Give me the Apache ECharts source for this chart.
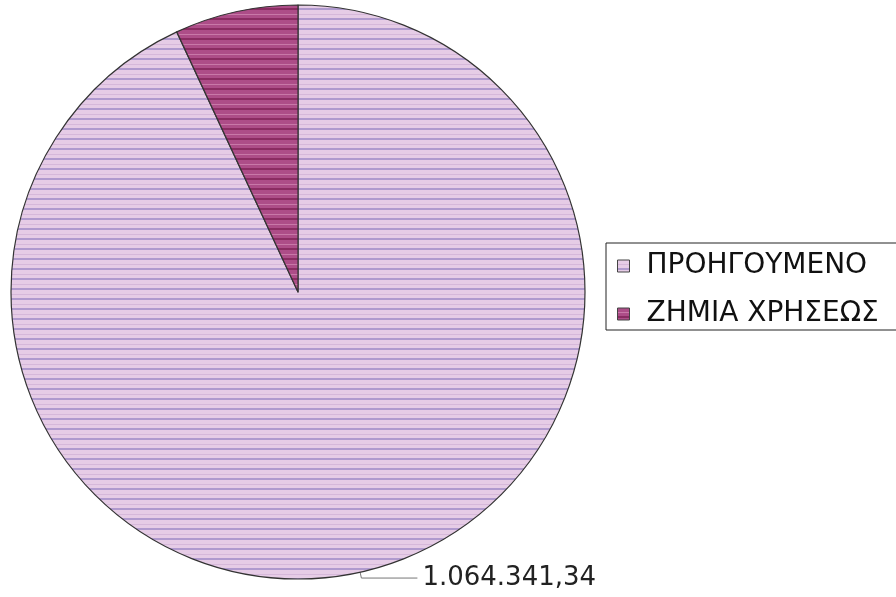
<!DOCTYPE html>
<html>
<head>
<meta charset="utf-8">
<script src="https://cdn.jsdelivr.net/npm/echarts@6/dist/echarts.min.js"></script>
<style>
  html, body { margin: 0; padding: 0; background: #fff; }
  #main { width: 896px; height: 597px; }
</style>
</head>
<body>
<div id="main"></div>
<script>
  var categories = ["ΠΡΟΗΓΟΥΜΕΝΟ", "ΖΗΜΙΑ ΧΡΗΣΕΩΣ"];
  var values = [1064341.34, 79400];
  var shownLabels = [true, false];

  // horizontal stripe pattern like the scanned chart
  function stripes(base, line, soft) {
    var c = document.createElement("canvas");
    c.width = 10;
    c.height = 10;
    var ctx = c.getContext("2d");
    ctx.fillStyle = base;
    ctx.fillRect(0, 0, 10, 10);
    ctx.fillStyle = soft;
    ctx.fillRect(0, 4, 10, 1);
    ctx.fillStyle = line;
    ctx.fillRect(0, 8, 10, 2);
    return c;
  }

  function fmt(v) {
    var parts = v.toFixed(2).split(".");
    var int = parts[0].replace(/\B(?=(\d{3})+(?!\d))/g, ".");
    return int + "," + parts[1];
  }

  var bigPattern = stripes("#e6cce6", "#b09ace", "#d6b8da");
  var smallPattern = stripes("#ad4d88", "#8a2c62", "#c878a8");

  var myChart = echarts.init(document.getElementById("main"));
  myChart.setOption({
    animation: false,
    legend: {
      orient: "vertical",
      left: 606,
      top: 243,
      padding: [8, 80, 1, 11],
      itemGap: 18,
      itemWidth: 12,
      itemHeight: 12,
      borderColor: "#222",
      borderWidth: 1,
      backgroundColor: "#fff",
      icon: "rect",
      itemStyle: { borderColor: "#444", borderWidth: 1 },
      textStyle: {
        fontFamily: "DejaVu Sans",
        fontSize: 28,
        lineHeight: 30,
        padding: [0, 0, 0, 12],
        color: "#111",
      },
      data: categories,
    },
    series: [
      {
        type: "pie",
        center: [298, 292],
        radius: 287,
        startAngle: 90,
        clockwise: true,
        itemStyle: {
          borderColor: "#333",
          borderWidth: 1.2,
        },
        label: {
          show: true,
          position: "outside",
          fontFamily: "DejaVu Sans",
          fontSize: 26,
          color: "#222",
          formatter: function (p) {
            return fmt(p.value);
          },
        },
        labelLine: {
          length: 6,
          length2: 56,
          lineStyle: { color: "#777", width: 1 },
        },
        data: categories.map(function (name, i) {
          return {
            name: name,
            value: values[i],
            label: { show: shownLabels[i] },
            labelLine: { show: shownLabels[i] },
            itemStyle: {
              color: {
                image: i === 0 ? bigPattern : smallPattern,
                repeat: "repeat",
              },
            },
          };
        }),
      },
    ],
  });
</script>
</body>
</html>
